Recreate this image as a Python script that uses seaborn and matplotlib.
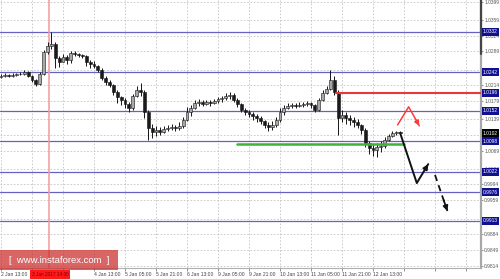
import numpy as np
import pandas as pd
import matplotlib
matplotlib.use("Agg")
import matplotlib.pyplot as plt
import matplotlib.transforms as mtransforms
from matplotlib.patches import Rectangle
import seaborn as sns

# ---------------- data (2-hour candles) ----------------
open_first = 1.0232
close = [1.0234, 1.0237, 1.0234, 1.0237, 1.0239, 1.0239, 1.0243, 1.0234, 1.0226, 1.0217,
         1.0239, 1.0288, 1.0301, 1.0305, 1.0274, 1.0265, 1.0277, 1.0270, 1.0285, 1.0283,
         1.0281, 1.0279, 1.0265, 1.0261, 1.0257, 1.0248, 1.0230, 1.0221, 1.0214, 1.0199,
         1.0188, 1.0181, 1.0172, 1.0163, 1.0190, 1.0203, 1.0199, 1.0155, 1.0119, 1.0110,
         1.0115, 1.0110, 1.0117, 1.0119, 1.0121, 1.0119, 1.0124, 1.0137, 1.0155, 1.0163,
         1.0175, 1.0177, 1.0172, 1.0177, 1.0175, 1.0179, 1.0183, 1.0186, 1.0190, 1.0192,
         1.0181, 1.0172, 1.0159, 1.0155, 1.0150, 1.0146, 1.0141, 1.0135, 1.0126, 1.0121,
         1.0126, 1.0137, 1.0155, 1.0163, 1.0168, 1.0170, 1.0168, 1.0170, 1.0172, 1.0175,
         1.0170, 1.0159, 1.0181, 1.0197, 1.0206, 1.0226, 1.0199, 1.0141, 1.0148, 1.0141,
         1.0137, 1.0132, 1.0126, 1.0115, 1.0086, 1.0075, 1.0070, 1.0077, 1.0079, 1.0093,
         1.0101, 1.0108, 1.0110, 1.0108]
high = [1.0239, 1.0241, 1.0239, 1.0241, 1.0241, 1.0243, 1.0248, 1.0246, 1.0237, 1.0228,
        1.0243, 1.0292, 1.0310, 1.0332, 1.0310, 1.0279, 1.0283, 1.0281, 1.0290, 1.0290,
        1.0285, 1.0283, 1.0281, 1.0270, 1.0268, 1.0259, 1.0252, 1.0234, 1.0226, 1.0217,
        1.0203, 1.0190, 1.0186, 1.0177, 1.0195, 1.0212, 1.0219, 1.0203, 1.0159, 1.0128,
        1.0124, 1.0121, 1.0124, 1.0126, 1.0128, 1.0126, 1.0132, 1.0144, 1.0166, 1.0170,
        1.0181, 1.0183, 1.0181, 1.0181, 1.0181, 1.0183, 1.0188, 1.0190, 1.0197, 1.0199,
        1.0197, 1.0186, 1.0175, 1.0163, 1.0159, 1.0155, 1.0150, 1.0146, 1.0137, 1.0132,
        1.0135, 1.0144, 1.0163, 1.0170, 1.0175, 1.0175, 1.0175, 1.0177, 1.0177, 1.0179,
        1.0177, 1.0172, 1.0186, 1.0203, 1.0212, 1.0248, 1.0234, 1.0203, 1.0159, 1.0155,
        1.0148, 1.0144, 1.0139, 1.0128, 1.0119, 1.0090, 1.0084, 1.0086, 1.0090, 1.0099,
        1.0106, 1.0112, 1.0112, 1.0112]
low = [1.0230, 1.0232, 1.0232, 1.0232, 1.0234, 1.0237, 1.0237, 1.0232, 1.0221, 1.0212,
       1.0214, 1.0237, 1.0283, 1.0294, 1.0252, 1.0254, 1.0265, 1.0261, 1.0263, 1.0279,
       1.0277, 1.0274, 1.0257, 1.0252, 1.0252, 1.0243, 1.0226, 1.0214, 1.0210, 1.0192,
       1.0175, 1.0170, 1.0163, 1.0155, 1.0159, 1.0188, 1.0190, 1.0141, 1.0093, 1.0097,
       1.0101, 1.0104, 1.0108, 1.0112, 1.0115, 1.0112, 1.0115, 1.0119, 1.0135, 1.0146,
       1.0161, 1.0168, 1.0168, 1.0170, 1.0168, 1.0172, 1.0175, 1.0177, 1.0181, 1.0183,
       1.0177, 1.0166, 1.0155, 1.0148, 1.0144, 1.0137, 1.0132, 1.0128, 1.0119, 1.0112,
       1.0115, 1.0121, 1.0132, 1.0148, 1.0161, 1.0163, 1.0163, 1.0166, 1.0166, 1.0168,
       1.0163, 1.0155, 1.0157, 1.0179, 1.0195, 1.0203, 1.0192, 1.0104, 1.0132, 1.0128,
       1.0126, 1.0121, 1.0119, 1.0106, 1.0077, 1.0061, 1.0057, 1.0055, 1.0066, 1.0075,
       1.0090, 1.0099, 1.0104, 1.0104]
bar_hours = np.arange(len(close)) * 2          # hours since 2 Jan 13:00

# horizontal levels (blue) and their labels
levels = [1.0332, 1.0243, 1.0157, 1.0090, 1.0022, 0.9977, 0.9913]
level_labels = ["1.0332", "1.0242", "1.0152", "1.0098", "1.0022", "0.9976", "0.9913"]
current_price = 1.0108
current_label = "1.0102"

# resistance (red) / support (green)
red_level = 1.0197
red_label = "1.0196"
red_start_hour = 173
green_level = 1.0084
green_hours = [122, 208]

# forecast arrows (hour, price)
red_path_h = [204.7, 210.4, 215.9]
red_path_p = [1.0126, 1.0166, 1.0124]
black_path_h = [206.0, 214.6, 220.5]
black_path_p = [1.0108, 0.9997, 1.0039]
dash_path_h = [224.0, 230.4]
dash_path_p = [1.0015, 0.9935]

cursor_hour = 24.8
cursor_label = "3 Jan 2017 14:00"

# axis ticks
ytick_vals = [0.9814, 0.9849, 0.9884, 0.9918, 0.9959, 0.9994, 1.0028, 1.0069, 1.0104,
              1.0139, 1.0179, 1.0214, 1.0248, 1.0289, 1.0324, 1.0359, 1.0399]
xtick_hours = list(range(0, 241, 16))
xtick_labels = ["2 Jan 13:00", "", "", "4 Jan 13:00", "5 Jan 05:00",
                "5 Jan 21:00", "6 Jan 13:00", "9 Jan 05:00", "9 Jan 21:00",
                "10 Jan 13:00", "11 Jan 05:00", "11 Jan 21:00", "12 Jan 13:00",
                "", "", ""]

# ---------------- figure ----------------
sns.set_theme(style="white")
plt.rcParams['font.family'] = ['Liberation Sans', 'DejaVu Sans']

W, H = 500, 279
fig = plt.figure(figsize=(W / 100, H / 100), dpi=100)
fig.patch.set_facecolor("white")
ax = fig.add_axes([0, 11 / H, 481 / W, 268 / H])
ax.set_facecolor("white")

ax.set_xlim(-0.516, 247.74)
ax.set_ylim(0.98087, 1.04029)

# grid
ax.set_xticks(xtick_hours)
ax.set_yticks(ytick_vals)
ax.grid(True, linestyle=(0, (2, 2)), color="#c4c4c4", linewidth=0.6)
ax.set_axisbelow(True)

# blue levels
for lv in levels:
    ax.axhline(lv, color="#6464c0", linewidth=0.9, zorder=2)

# cursor vertical line
ax.axvline(cursor_hour, color="#f19a9a", linewidth=1.1, zorder=2)

# candles
opens = [open_first] + close[:-1]
df = pd.DataFrame({"h": bar_hours, "o": opens, "c": close, "hi": high, "lo": low})
wick_top = df[["hi", "o", "c"]].max(axis=1)
wick_bot = df[["lo", "o", "c"]].min(axis=1)
ax.vlines(df["h"], wick_bot, wick_top, color="#151515", linewidth=0.7, zorder=4)
body_bot = df[["o", "c"]].min(axis=1)
body_h = (df["c"] - df["o"]).abs().clip(lower=0.00009)
up = df["c"] >= df["o"]
ax.bar(df["h"][up], body_h[up], bottom=body_bot[up], width=1.45,
       color="#a8a8a8", edgecolor="#151515", linewidth=0.4, zorder=5)
ax.bar(df["h"][~up], body_h[~up], bottom=body_bot[~up], width=1.45,
       color="#1a1a1a", edgecolor="#151515", linewidth=0.4, zorder=5)

# red resistance and green support lines
red_df = pd.DataFrame({"h": [red_start_hour, 247.74], "p": [red_level, red_level]})
sns.lineplot(data=red_df, x="h", y="p", ax=ax, color="#e8383a", linewidth=1.5, zorder=6)
green_df = pd.DataFrame({"h": green_hours, "p": [green_level, green_level]})
sns.lineplot(data=green_df, x="h", y="p", ax=ax, color="#3cb43c", linewidth=1.8, zorder=6)

# forecast arrows
def path_arrow(hs, ps, color, lw, dashed=False):
    d = pd.DataFrame({"h": hs, "p": ps})
    sns.lineplot(data=d, x="h", y="p", ax=ax, sort=False, color=color, linewidth=lw,
                 linestyle=(0, (3.5, 2.5)) if dashed else "-", zorder=7)
    ax.annotate("", xy=(hs[-1], ps[-1]),
                xytext=(hs[-1] - (hs[-1] - hs[-2]) * 0.3, ps[-1] - (ps[-1] - ps[-2]) * 0.3),
                arrowprops=dict(arrowstyle="-|>", color=color, lw=lw, mutation_scale=7,
                                shrinkA=0, shrinkB=0), zorder=8)

path_arrow(red_path_h, red_path_p, "#ff3b3b", 1.1)
path_arrow(black_path_h, black_path_p, "#111111", 1.4)
path_arrow(dash_path_h, dash_path_p, "#111111", 1.3, dashed=True)

ax.set_xlabel("")
ax.set_ylabel("")

# axes styling
for s in ["top", "left"]:
    ax.spines[s].set_visible(False)
ax.spines["right"].set_color("#a8a8a8")
ax.spines["right"].set_linewidth(1.6)
ax.spines["bottom"].set_color("#b0b0b0")
ax.spines["bottom"].set_linewidth(0.8)
ax.plot([1.0, 1.0], [0.8, 1.0], transform=ax.transAxes, color="#444444",
        linewidth=1.6, clip_on=False, zorder=9)

ax.yaxis.tick_right()
ax.tick_params(axis="y", which="both", right=True, length=1.5, width=0.5, color="#666666",
               labelsize=3.5, labelcolor="#555555", pad=0.8)
ax.set_yticklabels([f"{v:.4f}" for v in ytick_vals])
ax.tick_params(axis="x", which="both", bottom=True, length=2, width=0.5, color="#666666",
               labelsize=3.6, labelcolor="#444444", pad=1.2)
ax.set_xticklabels(xtick_labels, ha="left")

# boxed price labels on the right axis
trans = mtransforms.blended_transform_factory(ax.transAxes, ax.transData)
box_kw = dict(transform=trans, ha="left", va="center", fontsize=3.5, color="white",
              clip_on=False)
for lv, lab in zip(levels, level_labels):
    ax.text(1.004, lv, lab, zorder=10,
            bbox=dict(boxstyle="square,pad=0.25", fc="#101090", ec="none"), **box_kw)
ax.text(1.004, red_level, red_label, zorder=10,
        bbox=dict(boxstyle="square,pad=0.25", fc="#101090", ec="none"), **box_kw)
ax.text(1.004, current_price, current_label, zorder=11,
        bbox=dict(boxstyle="square,pad=0.25", fc="#000000", ec="none"), **box_kw)

# cursor date label on x axis
fig.patches.append(Rectangle((30 / W, 0), 40 / W, 9 / H, transform=fig.transFigure,
                             facecolor="#ff1a1a", edgecolor="none", zorder=20))
fig.text(50 / W, 4.5 / H, cursor_label, ha="center", va="center", fontsize=3.4,
         color="#7a0000", zorder=21)

# watermark
fig.patches.append(Rectangle((0, 9 / H), 118 / W, 20 / H, transform=fig.transFigure,
                             facecolor="#cc2a2a", alpha=0.72, edgecolor="none", zorder=20))
fig.text(59 / W, 18.5 / H, "[  www.instaforex.com  ]", ha="center", va="center",
         fontsize=6.8, color="white", zorder=21)

fig.savefig("out.png", dpi=100)
